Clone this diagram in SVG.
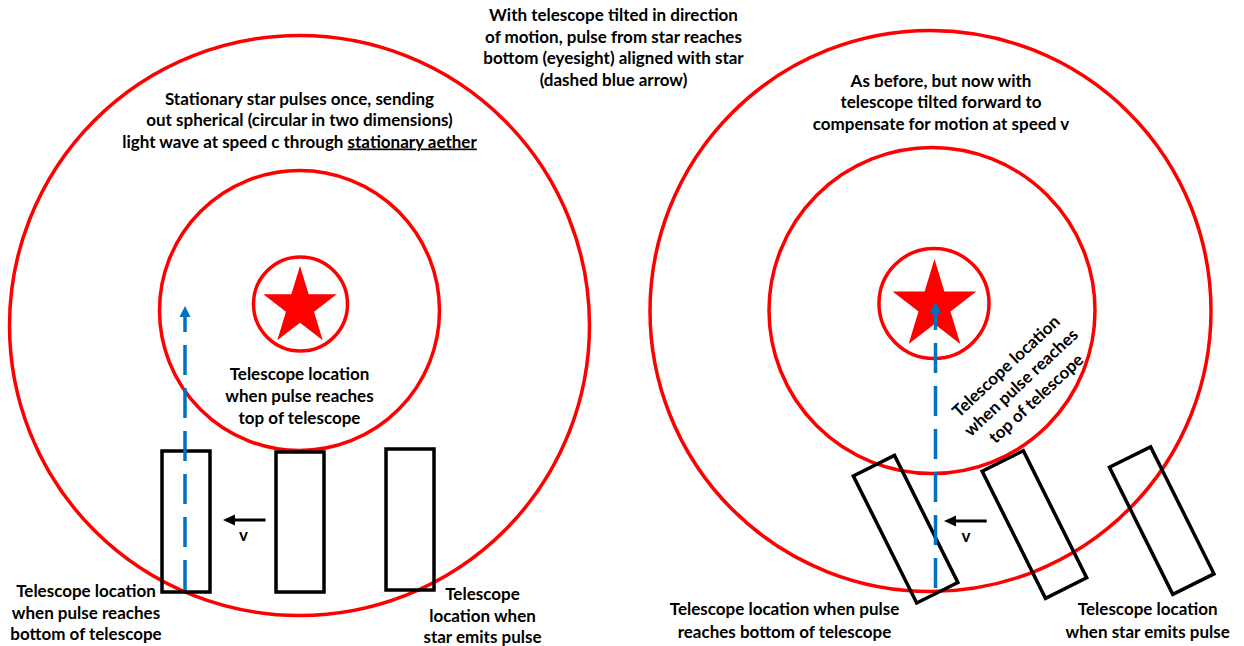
<svg xmlns="http://www.w3.org/2000/svg" width="1244" height="646" viewBox="0 0 1244 646">
<defs>
<style>
.wave{fill:none;stroke:#FF0000;stroke-width:3.5}
.star{fill:#FF0000}
.scope{fill:none;stroke:#000000;stroke-width:3.5}
.sight{fill:none;stroke:#0070C0;stroke-width:3.5;stroke-dasharray:30 13}
.vel{fill:none;stroke:#000000;stroke-width:3}
.lbl{font-family:Lato,"Liberation Sans",sans-serif;font-weight:700;font-size:17px;fill:#000000;text-anchor:middle}
</style>
<polygon id="starShape" points="0,-1 0.2245,-0.309 0.951,-0.309 0.3633,0.118 0.588,0.809 0,0.382 -0.588,0.809 -0.3633,0.118 -0.951,-0.309 -0.2245,-0.309"/>
<marker id="headBlue" markerUnits="userSpaceOnUse" markerWidth="12" markerHeight="12" refX="0" refY="6" orient="auto" overflow="visible"><path d="M0,0.5 L11,6 L0,11.5 Z" fill="#0070C0"/></marker>
<marker id="headBlack" markerUnits="userSpaceOnUse" markerWidth="13" markerHeight="12" refX="0" refY="6" orient="auto" overflow="visible"><path d="M0,0.5 L12,6 L0,11.5 Z" fill="#000000"/></marker>
</defs>
<rect width="1244" height="646" fill="#FFFFFF"/>

<!-- Left diagram -->
<g id="left-wave-outer"><circle class="wave" cx="299.5" cy="325.5" r="290"/></g>
<g id="left-wave-middle"><circle class="wave" cx="299.5" cy="310.5" r="140"/></g>
<g id="left-star"><circle class="wave" cx="300.5" cy="304" r="47"/><use href="#starShape" class="star" transform="translate(300,307) scale(38.6,41)"/></g>
<g id="left-scope-bottom"><rect class="scope" x="162" y="451" width="48" height="141"/></g>
<g id="left-scope-top"><rect class="scope" x="276" y="452" width="48" height="140"/></g>
<g id="left-scope-emit"><rect class="scope" x="386" y="449" width="48" height="141"/></g>

<!-- Right diagram -->
<g id="right-wave-outer"><circle class="wave" cx="930.5" cy="311" r="280.5"/></g>
<g id="right-wave-middle"><circle class="wave" cx="932" cy="310.5" r="163"/></g>
<g id="right-star"><circle class="wave" cx="934" cy="303.5" r="55"/><use href="#starShape" class="star" transform="translate(934.5,306) scale(44,47)"/></g>
<g id="right-scope-bottom"><rect class="scope" x="-23" y="-71" width="46" height="142" transform="translate(905.6,529.2) rotate(-26.5)"/></g>
<g id="right-scope-top"><rect class="scope" x="-23" y="-71" width="46" height="142" transform="translate(1034.4,524.5) rotate(-26.5)"/></g>
<g id="right-scope-emit"><rect class="scope" x="-23" y="-71" width="46" height="142" transform="translate(1161.7,520.6) rotate(-26.5)"/></g>

<!-- Connectors -->
<g id="connectors">
<line class="sight" x1="185" y1="590" x2="185" y2="317" marker-end="url(#headBlue)"/>
<line class="sight" x1="935.5" y1="588" x2="935.5" y2="313" marker-end="url(#headBlue)"/>
<line class="vel" x1="265.5" y1="520" x2="235" y2="520" marker-end="url(#headBlack)"/>
<line class="vel" x1="986.7" y1="521" x2="956" y2="521" marker-end="url(#headBlack)"/>
</g>

<!-- Labels -->
<g id="label-top">
<text class="lbl" x="613.5" y="21">With telescope tilted in direction</text>
<text class="lbl" x="613.5" y="42.5">of motion, pulse from star reaches</text>
<text class="lbl" x="613.5" y="64">bottom (eyesight) aligned with star</text>
<text class="lbl" x="613.5" y="85.5">(dashed blue arrow)</text>
</g>
<g id="label-left-title">
<text class="lbl" x="299.5" y="104.5">Stationary star pulses once, sending</text>
<text class="lbl" x="299.5" y="126">out spherical (circular in two dimensions)</text>
<text class="lbl" x="299.5" y="147.5">light wave at speed c through <tspan style="text-decoration:underline">stationary aether</tspan></text>
</g>
<g id="label-left-top">
<text class="lbl" x="299.5" y="380">Telescope location</text>
<text class="lbl" x="299.5" y="402">when pulse reaches</text>
<text class="lbl" x="299.5" y="423.5">top of telescope</text>
</g>
<g id="label-left-bottom">
<text class="lbl" x="86" y="597">Telescope location</text>
<text class="lbl" x="86" y="619">when pulse reaches</text>
<text class="lbl" x="86" y="640">bottom of telescope</text>
</g>
<g id="label-left-emit">
<text class="lbl" x="482.5" y="600">Telescope</text>
<text class="lbl" x="482.5" y="621.5">location when</text>
<text class="lbl" x="482.5" y="643">star emits pulse</text>
</g>
<g id="label-left-v"><text class="lbl" x="243.5" y="541">v</text></g>
<g id="label-right-title">
<text class="lbl" x="941" y="86.7">As before, but now with</text>
<text class="lbl" x="941" y="108.3">telescope tilted forward to</text>
<text class="lbl" x="941" y="130">compensate for motion at speed v</text>
</g>
<g id="label-right-top" transform="translate(1025,386.7) rotate(-43)">
<text class="lbl" x="0" y="-22">Telescope location</text>
<text class="lbl" x="0" y="0">when pulse reaches</text>
<text class="lbl" x="0" y="22">top of telescope</text>
</g>
<g id="label-right-bottom">
<text class="lbl" x="784.5" y="615">Telescope location when pulse</text>
<text class="lbl" x="784.5" y="637.5">reaches bottom of telescope</text>
</g>
<g id="label-right-emit">
<text class="lbl" x="1147.7" y="615">Telescope location</text>
<text class="lbl" x="1147.7" y="637.5">when star emits pulse</text>
</g>
<g id="label-right-v"><text class="lbl" x="966" y="542">v</text></g>
</svg>
